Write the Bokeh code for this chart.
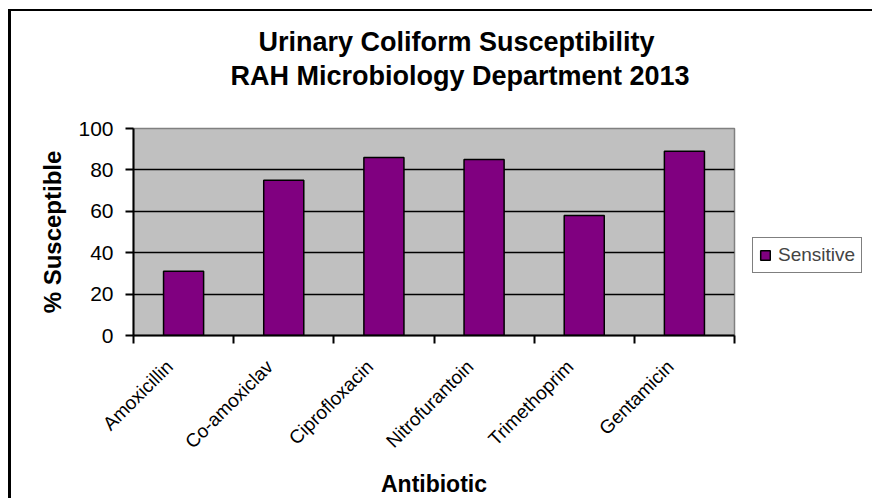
from math import pi
from bokeh.plotting import figure
from bokeh.models import FixedTicker, Title, Legend, LegendItem, ColumnDataSource, Range1d, LinearAxis
from bokeh.embed import file_html
from bokeh.resources import INLINE

categories = ["Amoxicillin", "Co-amoxiclav", "Ciprofloxacin", "Nitrofurantoin", "Trimethoprim", "Gentamicin"]
sensitive = [31, 75, 86, 85, 58, 89]
y_ticks = [0, 20, 40, 60, 80, 100]
title_lines = ["Urinary Coliform Susceptibility", "RAH Microbiology Department 2013"]
series_name = "Sensitive"
x_title = "Antibiotic"
y_title = "% Susceptible"

FONT = "Liberation Sans"
positions = [i + 0.5 for i in range(len(categories))]
label_positions = [i + 0.36 for i in range(len(categories))]  # Excel anchors rotated labels slightly left of centre
source = ColumnDataSource(dict(x=positions, y=sensitive, cat=categories))

p = figure(frame_width=601, frame_height=207,
           x_range=Range1d(0, len(categories)), y_range=Range1d(0, 100),
           output_backend="svg", toolbar_location=None, title=None,
           min_border_left=122, min_border_top=117, min_border_right=130, min_border_bottom=150)
p.styles = {"margin-left": "8px", "margin-top": "9px",
            "border-left": "3px solid black", "border-top": "2px solid black"}

r = p.vbar(x="x", top="y", bottom=0, width=0.4, source=source,
           fill_color="#800080", line_color="black", line_width=1.5)

legend = Legend(items=[LegendItem(label=series_name, renderers=[r])], location=(18, 62),
                border_line_color="black", border_line_width=1, background_fill_color="white",
                padding=6, margin=0, glyph_width=12, glyph_height=12, label_standoff=7,
                label_text_font=FONT, label_text_font_size="19px", spacing=0)
p.add_layout(legend, "right")

p.background_fill_color = "#C0C0C0"
p.border_fill_color = "white"
p.outline_line_color = "#808080"
p.outline_line_width = 1.5

p.xgrid.visible = False
p.ygrid.ticker = FixedTicker(ticks=y_ticks)
p.ygrid.grid_line_color = "black"
p.ygrid.grid_line_width = 1.5

xa = p.xaxis[0]
xa.ticker = FixedTicker(ticks=label_positions, minor_ticks=list(range(len(categories) + 1)))
xa.major_label_overrides = {pos: cat for pos, cat in zip(label_positions, categories)}
xa.major_tick_line_color = None
xa.major_tick_out = 8
xa.major_tick_in = 0
xa.minor_tick_line_color = "black"
xa.minor_tick_line_width = 2
xa.minor_tick_out = 8
xa.minor_tick_in = 0
xa.axis_line_color = "black"
xa.axis_line_width = 2
xa.major_label_orientation = pi / 4
xa.major_label_text_font = FONT
xa.major_label_text_font_size = "19px"
xa.major_label_text_color = "black"
xa.major_label_standoff = 20
xa.axis_label = x_title
xa.axis_label_text_font = FONT
xa.axis_label_text_font_size = "23px"
xa.axis_label_text_font_style = "bold"
xa.axis_label_text_color = "black"
xa.axis_label_standoff = 8

ya = p.yaxis[0]
ya.ticker = FixedTicker(ticks=y_ticks)
ya.minor_tick_line_color = None
ya.major_tick_out = 8
ya.major_tick_in = 0
ya.major_tick_line_color = "black"
ya.major_tick_line_width = 2
ya.axis_line_color = "black"
ya.axis_line_width = 2
ya.major_label_text_font = FONT
ya.major_label_text_font_size = "21px"
ya.major_label_text_color = "black"
ya.major_label_standoff = 12
ya.axis_label = y_title
ya.axis_label_text_font = FONT
ya.axis_label_text_font_size = "24px"
ya.axis_label_text_font_style = "bold"
ya.axis_label_text_color = "black"
ya.axis_label_standoff = 9

# invisible spacer between the plot area and the two-line title
spacer = LinearAxis(ticker=FixedTicker(ticks=[0]), axis_line_color=None,
                    major_tick_line_color=None, minor_tick_line_color=None,
                    major_tick_out=38, major_tick_in=0, minor_tick_out=0, minor_tick_in=0,
                    major_label_standoff=0, major_label_text_color=None,
                    major_label_text_font_size="1px")
p.add_layout(spacer, "above")

t2 = Title(text=title_lines[1], align="left", offset=97, text_font=FONT, vertical_align="bottom",
           text_font_size="27px", text_font_style="bold", text_color="black", standoff=0)
t1 = Title(text=title_lines[0], align="left", offset=125, text_font=FONT, vertical_align="bottom",
           text_font_size="27px", text_font_style="bold", text_color="black", standoff=4)
p.add_layout(t2, "above")
p.add_layout(t1, "above")

open("out.html", "w").write(file_html(p, INLINE))
